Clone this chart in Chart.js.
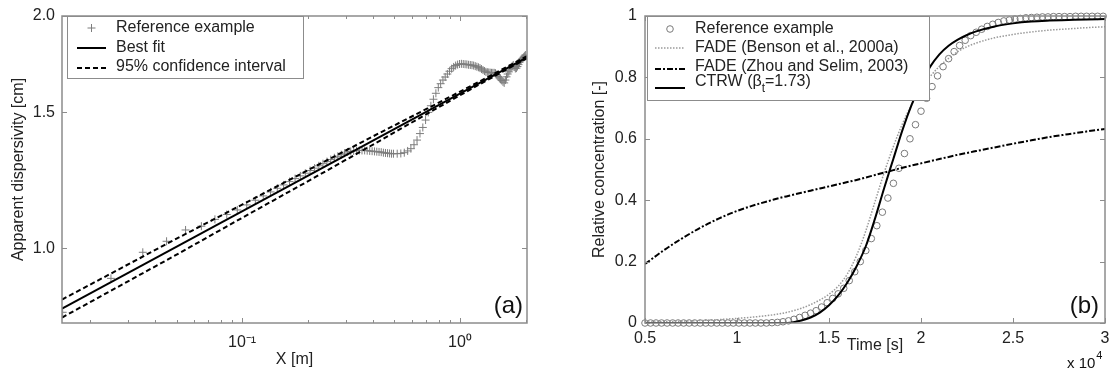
<!DOCTYPE html>
<html>
<head>
<meta charset="utf-8">
<script src="https://cdn.jsdelivr.net/npm/chart.js@4.4.1/dist/chart.umd.min.js"></script>
<style>
  html, body { margin: 0; padding: 0; background: #fff; }
  #wrap { position: relative; width: 1110px; height: 371px; }
  #chartA { position: absolute; left: 0; top: 0; }
  #chartB { position: absolute; left: 555px; top: 0; }
</style>
</head>
<body>
<div id="wrap">
  <canvas id="chartA" width="550" height="371"></canvas>
  <canvas id="chartB" width="555" height="371"></canvas>
</div>
<script>
// ---------- panel (a): apparent dispersivity vs X ----------
const refX = [0.015, 0.025, 0.035, 0.045, 0.055, 0.065, 0.075, 0.085, 0.095, 0.105,
  0.115, 0.125, 0.135, 0.145, 0.155, 0.165, 0.175, 0.185, 0.195, 0.205,
  0.215, 0.225, 0.235, 0.245, 0.255, 0.265, 0.275, 0.285, 0.295, 0.305,
  0.315, 0.325, 0.335, 0.345, 0.355, 0.365, 0.375, 0.385, 0.395, 0.405,
  0.415, 0.425, 0.435, 0.445, 0.455, 0.465, 0.475, 0.485, 0.495,
  0.515, 0.535, 0.555, 0.575, 0.595, 0.615, 0.635, 0.655, 0.675, 0.695,
  0.715, 0.735, 0.755, 0.775, 0.795, 0.815, 0.835, 0.855, 0.875, 0.895,
  0.915, 0.935, 0.955, 0.975, 0.995, 1.015, 1.035, 1.055, 1.075, 1.095,
  1.115, 1.135, 1.155, 1.175, 1.195, 1.215, 1.235, 1.255, 1.275, 1.295,
  1.315, 1.335, 1.355, 1.375, 1.395, 1.415, 1.435, 1.455, 1.475, 1.495,
  1.515, 1.535, 1.555, 1.575, 1.595, 1.615, 1.635, 1.655, 1.675, 1.695,
  1.715, 1.735, 1.755, 1.775, 1.795, 1.815, 1.835, 1.855, 1.875, 1.895,
  1.915, 1.935, 1.955, 1.975, 1.995];
const refY = [0.826, 0.914, 0.988, 1.021, 1.056, 1.068, 1.090, 1.106, 1.121, 1.138,
  1.154, 1.169, 1.183, 1.196, 1.208, 1.220, 1.231, 1.241, 1.251, 1.261,
  1.270, 1.279, 1.287, 1.295, 1.303, 1.310, 1.316, 1.322, 1.328, 1.333,
  1.335, 1.337, 1.338, 1.339, 1.339, 1.339, 1.338, 1.337, 1.336, 1.335,
  1.334, 1.333, 1.332, 1.330, 1.329, 1.328, 1.327, 1.326, 1.326,
  1.326, 1.327, 1.330, 1.337, 1.346, 1.362, 1.381, 1.408, 1.434, 1.466,
  1.500, 1.530, 1.560, 1.588, 1.615, 1.634, 1.652, 1.667, 1.682, 1.696,
  1.709, 1.718, 1.725, 1.730, 1.733, 1.734, 1.733, 1.732, 1.731, 1.729,
  1.728, 1.727, 1.725, 1.722, 1.719, 1.716, 1.712, 1.707, 1.702, 1.697,
  1.693, 1.691, 1.690, 1.689, 1.688, 1.688, 1.688, 1.686, 1.679, 1.670,
  1.663, 1.657, 1.650, 1.643, 1.638, 1.652, 1.668, 1.682, 1.693, 1.703,
  1.712, 1.722, 1.728, 1.718, 1.710, 1.712, 1.720, 1.730, 1.742, 1.750,
  1.756, 1.762, 1.768, 1.774, 1.780];

const fitX = [0.0149, 2.03];
const fitY = [0.835, 1.768];
const ciX = [0.0149, 0.05, 0.1, 0.2, 0.43, 0.73, 1.23, 2.03];
const ciUpper = [0.858, 1.029, 1.139, 1.262, 1.412, 1.524, 1.645, 1.774];
const ciLower = [0.813, 0.981, 1.095, 1.221, 1.379, 1.502, 1.631, 1.763];

const xTicksA = [0.02, 0.03, 0.04, 0.05, 0.06, 0.07, 0.08, 0.09, 0.1,
  0.2, 0.3, 0.4, 0.5, 0.6, 0.7, 0.8, 0.9, 1, 2];
const xLabeledA = [0.1, 1];
const xLabelTextA = ['10\u207B\u00B9', '10\u2070'];
const yTicksA = [1.0, 1.5, 2.0];

// ---------- panel (b): breakthrough curves ----------
const timeRef = [0.50, 0.53, 0.56, 0.59, 0.62, 0.65, 0.68, 0.71, 0.74, 0.77,
  0.80, 0.83, 0.86, 0.89, 0.92, 0.95, 0.98, 1.01, 1.04, 1.07,
  1.10, 1.13, 1.16, 1.19, 1.22, 1.25, 1.28, 1.31, 1.34, 1.37,
  1.40, 1.43, 1.46, 1.49, 1.52, 1.55, 1.58, 1.61, 1.64, 1.67,
  1.70, 1.73, 1.76, 1.79, 1.82, 1.85, 1.88, 1.91, 1.94, 1.97,
  2.00, 2.03, 2.06, 2.09, 2.12, 2.15, 2.18, 2.21, 2.24, 2.27,
  2.30, 2.33, 2.36, 2.39, 2.42, 2.45, 2.48, 2.51, 2.54, 2.57,
  2.60, 2.63, 2.66, 2.69, 2.72, 2.75, 2.78, 2.81, 2.84, 2.87,
  2.90, 2.93, 2.96, 2.99];
const concRef = [0, 0, 0, 0, 0, 0, 0, 0, 0, 0,
  0, 0, 0, 0, 0, 0, 0, 0, 0, 0,
  0, 0, 0, 0.001, 0.002, 0.004, 0.007, 0.012, 0.018, 0.025,
  0.032, 0.040, 0.052, 0.066, 0.080, 0.095, 0.113, 0.138, 0.167, 0.200,
  0.236, 0.275, 0.317, 0.361, 0.407, 0.455, 0.504, 0.552, 0.600, 0.646,
  0.690, 0.732, 0.770, 0.805, 0.835, 0.861, 0.884, 0.904, 0.921, 0.936,
  0.947, 0.957, 0.966, 0.973, 0.979, 0.984, 0.987, 0.990, 0.992, 0.994,
  0.995, 0.996, 0.997, 0.997, 0.998, 0.998, 0.998, 0.998, 0.999, 0.999,
  0.999, 0.999, 0.999, 0.999];

const timeCurve = [0.5, 0.6, 0.7, 0.8, 0.9, 1.0, 1.1, 1.2, 1.25, 1.3,
  1.35, 1.4, 1.45, 1.5, 1.55, 1.6, 1.65, 1.7, 1.75, 1.8,
  1.85, 1.9, 1.95, 2.0, 2.05, 2.1, 2.15, 2.2, 2.25, 2.3,
  2.4, 2.5, 2.6, 2.7, 2.8, 2.9, 3.0];
const concBenson = [0.003, 0.004, 0.006, 0.008, 0.011, 0.015, 0.020, 0.027, 0.032, 0.039,
  0.048, 0.060, 0.075, 0.094, 0.120, 0.160, 0.220, 0.300, 0.395, 0.490,
  0.575, 0.650, 0.712, 0.762, 0.803, 0.836, 0.862, 0.884, 0.900, 0.912,
  0.929, 0.940, 0.948, 0.954, 0.958, 0.962, 0.965];
const concZhou = [0.192, 0.236, 0.275, 0.310, 0.340, 0.365, 0.385, 0.402, 0.410, 0.417,
  0.424, 0.431, 0.438, 0.445, 0.452, 0.459, 0.466, 0.474, 0.482, 0.490,
  0.498, 0.506, 0.513, 0.520, 0.527, 0.534, 0.541, 0.548, 0.554, 0.560,
  0.572, 0.584, 0.595, 0.606, 0.615, 0.624, 0.632];
const concCtrw = [0, 0, 0, 0, 0, 0, 0, 0, 0, 0.002,
  0.008, 0.018, 0.034, 0.058, 0.090, 0.132, 0.185, 0.250, 0.340, 0.440,
  0.535, 0.630, 0.712, 0.780, 0.835, 0.875, 0.903, 0.923, 0.938, 0.950,
  0.966, 0.976, 0.982, 0.985, 0.987, 0.989, 0.990];

const xTicksB = [0.5, 1, 1.5, 2, 2.5, 3];
const xLabelsB = ['0.5', '1', '1.5', '2', '2.5', '3'];
const yTicksB = [0, 0.2, 0.4, 0.6, 0.8, 1];
const yLabelsB = ['0', '0.2', '0.4', '0.6', '0.8', '1'];

const FONT = "'Liberation Sans', Arial, sans-serif";
const AXIS_GREY = '#8c8c8c';
Chart.defaults.font.family = FONT;
Chart.defaults.font.size = 16;
Chart.defaults.color = '#222';

const pts = (xs, ys) => xs.map((x, i) => ({ x: x, y: ys[i] }));

// inward MATLAB-style tick marks + grey box
const frame = {
  id: 'frame',
  afterDatasetsDraw(chart) {
    const { ctx, chartArea: a } = chart;
    ctx.save();
    ctx.strokeStyle = AXIS_GREY;
    ctx.lineWidth = 1;
    ['x', 'y'].forEach(id => {
      const s = chart.scales[id];
      s.ticks.forEach(t => {
        const len = t.label ? 5 : 3;
        const p = Math.round(s.getPixelForValue(t.value)) + 0.5;
        ctx.beginPath();
        if (s.isHorizontal()) {
          ctx.moveTo(p, a.bottom); ctx.lineTo(p, a.bottom - len);
          ctx.moveTo(p, a.top); ctx.lineTo(p, a.top + len);
        } else {
          ctx.moveTo(a.left, p); ctx.lineTo(a.left + len, p);
          ctx.moveTo(a.right, p); ctx.lineTo(a.right - len, p);
        }
        ctx.stroke();
      });
    });
    ctx.lineWidth = 1.5;
    ctx.strokeRect(a.left, a.top, a.width, a.height);
    ctx.restore();
  }
};

// legend box drawn inside the plot, styles taken from the datasets
const boxLegend = {
  id: 'boxLegend',
  afterDraw(chart, args, o) {
    if (!o.rows) return;
    const { ctx, chartArea: a } = chart;
    const x0 = a.left + o.dx, y0 = a.top + o.dy;
    ctx.save();
    ctx.fillStyle = '#fff';
    ctx.fillRect(x0, y0, o.w, o.h);
    ctx.strokeStyle = AXIS_GREY;
    ctx.lineWidth = 1;
    ctx.strokeRect(x0 + 0.5, y0 + 0.5, o.w, o.h);
    o.rows.forEach(r => {
      const ds = chart.data.datasets[r.ds];
      const sy = y0 + r.sampleY;
      const sx1 = x0 + o.sampleX[0], sx2 = x0 + o.sampleX[1];
      ctx.strokeStyle = ds.borderColor;
      if (ds.showLine === false) {
        ctx.lineWidth = ds.borderWidth;
        ctx.setLineDash([]);
        const cx = (sx1 + sx2) / 2, rr = ds.pointRadius;
        ctx.beginPath();
        if (ds.pointStyle === 'cross') {
          ctx.moveTo(cx - rr, sy); ctx.lineTo(cx + rr, sy);
          ctx.moveTo(cx, sy - rr); ctx.lineTo(cx, sy + rr);
        } else {
          ctx.arc(cx, sy, rr, 0, Math.PI * 2);
        }
        ctx.stroke();
      } else {
        ctx.lineWidth = ds.borderWidth;
        ctx.setLineDash(ds.borderDash || []);
        ctx.beginPath();
        ctx.moveTo(sx1, sy); ctx.lineTo(sx2, sy);
        ctx.stroke();
      }
      ctx.setLineDash([]);
      // label, "_x" means subscript x
      ctx.fillStyle = '#222';
      ctx.textBaseline = 'middle';
      let tx = x0 + o.textX;
      const ty = y0 + r.textY;
      const parts = ds.label.split('_');
      parts.forEach((part, i) => {
        if (i > 0) {
          ctx.font = '12px ' + FONT;
          ctx.fillText(part[0], tx, ty + 7);
          tx += ctx.measureText(part[0]).width;
          part = part.slice(1);
        }
        ctx.font = '16px ' + FONT;
        ctx.fillText(part, tx, ty);
        tx += ctx.measureText(part).width;
      });
    });
    ctx.restore();
  }
};

// panel letter and the x10^4 multiplier
const panelText = {
  id: 'panelText',
  afterDraw(chart, args, o) {
    const { ctx, chartArea: a } = chart;
    ctx.save();
    ctx.fillStyle = '#111';
    ctx.font = '24px ' + FONT;
    ctx.textAlign = 'right';
    ctx.textBaseline = 'middle';
    ctx.fillText(o.tag, a.right - o.tagDx, a.bottom - 17);
    if (o.power) {
      ctx.textAlign = 'left';
      ctx.textBaseline = 'alphabetic';
      ctx.font = '15px ' + FONT;
      const base = 'x 10';
      const bx = a.right - 38, by = a.bottom + 45;
      ctx.fillText(base, bx, by);
      const w = ctx.measureText(base).width;
      ctx.font = '11px ' + FONT;
      ctx.fillText(o.power, bx + w + 1, by - 9);
    }
    ctx.restore();
  }
};

const flatAxis = {
  grid: { display: false, drawTicks: false },
  border: { display: false }
};

const chartA = new Chart(document.getElementById('chartA'), {
  type: 'scatter',
  data: {
    datasets: [
      {
        label: 'Reference example',
        data: pts(refX, refY),
        showLine: false,
        pointStyle: 'cross',
        pointRadius: 4,
        borderColor: '#7d7d7d',
        borderWidth: 1,
        order: 3
      },
      {
        label: 'Best fit',
        data: pts(fitX, fitY),
        showLine: true,
        borderColor: '#000',
        borderWidth: 2,
        pointRadius: 0,
        order: 1
      },
      {
        label: '95% confidence interval',
        data: pts(ciX, ciUpper),
        showLine: true,
        borderColor: '#000',
        borderWidth: 2,
        borderDash: [5, 3],
        pointRadius: 0,
        order: 2
      },
      {
        label: '95% confidence interval (lower)',
        data: pts(ciX, ciLower),
        showLine: true,
        borderColor: '#000',
        borderWidth: 2,
        borderDash: [5, 3],
        pointRadius: 0,
        order: 2
      }
    ]
  },
  options: {
    responsive: false,
    animation: false,
    events: [],
    layout: { padding: { left: 0, top: 16, right: 23, bottom: 0 } },
    scales: {
      x: {
        ...flatAxis,
        type: 'logarithmic',
        min: 0.0149,
        max: 2.03,
        afterBuildTicks: s => { s.ticks = xTicksA.map(v => ({ value: v })); },
        afterFit: s => { s.height = 48; s.paddingLeft = 0; s.paddingRight = 0; },
        ticks: {
          autoSkip: false,
          maxRotation: 0,
          padding: 10,
          callback: v => {
            const i = xLabeledA.indexOf(v);
            return i >= 0 ? xLabelTextA[i] : '';
          }
        },
        title: { display: true, text: 'X [m]', padding: { top: 0, bottom: 2 } }
      },
      y: {
        ...flatAxis,
        type: 'logarithmic',
        min: 0.8,
        max: 2.0,
        afterBuildTicks: s => { s.ticks = yTicksA.map(v => ({ value: v })); },
        afterFit: s => { s.width = 62; s.paddingTop = 0; s.paddingBottom = 0; },
        ticks: { padding: 7, callback: v => Number(v).toFixed(1) },
        title: { display: true, text: 'Apparent dispersivity [cm]', padding: { top: 9, bottom: 0 } }
      }
    },
    plugins: {
      legend: { display: false },
      tooltip: { enabled: false },
      boxLegend: {
        dx: 5, dy: 0, w: 236, h: 62,
        sampleX: [10, 39], textX: 49,
        rows: [
          { ds: 0, sampleY: 12, textY: 12 },
          { ds: 1, sampleY: 32, textY: 32 },
          { ds: 2, sampleY: 52, textY: 51 }
        ]
      },
      panelText: { tag: '(a)', tagDx: 4 }
    }
  },
  plugins: [frame, boxLegend, panelText]
});

const chartB = new Chart(document.getElementById('chartB'), {
  type: 'scatter',
  data: {
    datasets: [
      {
        label: 'Reference example',
        data: pts(timeRef, concRef),
        showLine: false,
        pointStyle: 'circle',
        pointRadius: 3.3,
        borderColor: '#7a7a7a',
        backgroundColor: 'rgba(0,0,0,0)',
        borderWidth: 1,
        clip: 5,
        order: 4
      },
      {
        label: 'FADE (Benson et al., 2000a)',
        data: pts(timeCurve, concBenson),
        showLine: true,
        borderColor: '#9a9a9a',
        borderWidth: 1.5,
        borderDash: [1.5, 1.5],
        pointRadius: 0,
        cubicInterpolationMode: 'monotone',
        order: 3
      },
      {
        label: 'FADE (Zhou and Selim, 2003)',
        data: pts(timeCurve, concZhou),
        showLine: true,
        borderColor: '#000',
        borderWidth: 2,
        borderDash: [6, 2, 2, 2],
        pointRadius: 0,
        cubicInterpolationMode: 'monotone',
        order: 2
      },
      {
        label: 'CTRW (\u03B2_t=1.73)',
        data: pts(timeCurve, concCtrw),
        showLine: true,
        borderColor: '#000',
        borderWidth: 2,
        pointRadius: 0,
        cubicInterpolationMode: 'monotone',
        order: 1
      }
    ]
  },
  options: {
    responsive: false,
    animation: false,
    events: [],
    layout: { padding: { left: 0, top: 16, right: 4, bottom: 0 } },
    scales: {
      x: {
        ...flatAxis,
        type: 'linear',
        min: 0.5,
        max: 3,
        afterBuildTicks: s => { s.ticks = xTicksB.map(v => ({ value: v })); },
        afterFit: s => { s.height = 48; s.paddingLeft = 0; s.paddingRight = 0; },
        ticks: {
          autoSkip: false,
          maxRotation: 0,
          padding: 6,
          callback: v => xLabelsB[xTicksB.indexOf(v)]
        },
        title: { display: true, text: 'Time [s]', padding: { top: 0, bottom: 16 } }
      },
      y: {
        ...flatAxis,
        type: 'linear',
        min: 0,
        max: 1,
        afterBuildTicks: s => { s.ticks = yTicksB.map(v => ({ value: v })); },
        afterFit: s => { s.width = 90; s.paddingTop = 0; s.paddingBottom = 0; },
        ticks: { padding: 8, callback: v => yLabelsB[yTicksB.indexOf(v)] },
        title: { display: true, text: 'Relative concentration [-]', padding: { top: 35, bottom: 0 } }
      }
    },
    plugins: {
      legend: { display: false },
      tooltip: { enabled: false },
      boxLegend: {
        dx: 2, dy: 0, w: 282, h: 84,
        sampleX: [8, 38], textX: 48,
        rows: [
          { ds: 0, sampleY: 13, textY: 13 },
          { ds: 1, sampleY: 32, textY: 32 },
          { ds: 2, sampleY: 53, textY: 51 },
          { ds: 3, sampleY: 72, textY: 66 }
        ]
      },
      panelText: { tag: '(b)', tagDx: 6, power: '4' }
    }
  },
  plugins: [frame, boxLegend, panelText]
});
</script>
</body>
</html>
